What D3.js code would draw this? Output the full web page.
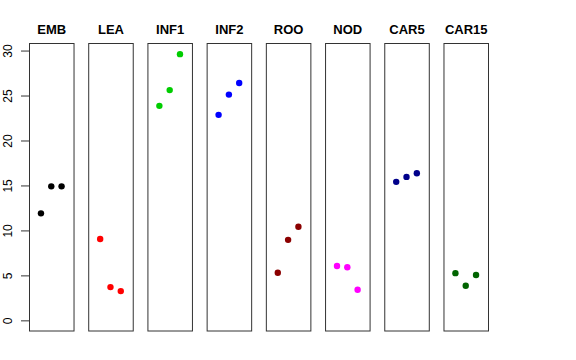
<!DOCTYPE html>
<html>
<head>
<meta charset="utf-8">
<script src="https://cdn.jsdelivr.net/npm/d3@7"></script>
<style>
html,body{margin:0;padding:0;background:#fff;}
svg{display:block;font-family:"Liberation Sans",Arial,Helvetica,sans-serif;}
</style>
</head>
<body>
<svg id="chart" width="576" height="360"></svg>
<script>
const categories = ["EMB","LEA","INF1","INF2","ROO","NOD","CAR5","CAR15"];
const colors = ["#000000","#FF0000","#00CD00","#0000FF","#8B0000","#FF00FF","#00008B","#006400"];
const replicates = [1,2,3];
const EMB   = [11.9, 14.9, 14.9];
const LEA   = [9.05, 3.7, 3.25];
const INF1  = [23.85, 25.6, 29.6];
const INF2  = [22.85, 25.1, 26.4];
const ROO   = [5.3, 8.95, 10.4];
const NOD   = [6.05, 5.9, 3.4];
const CAR5  = [15.4, 15.95, 16.35];
const CAR15 = [5.25, 3.85, 5.05];
const seriesValues = [EMB, LEA, INF1, INF2, ROO, NOD, CAR5, CAR15];
const yTicks = [0, 5, 10, 15, 20, 25, 30];

const svg = d3.select("#chart");
const plotTop = 43.5, plotBottom = 331;
const yMax = 29.6;
const y = d3.scaleLinear().domain([-0.04*yMax, yMax*1.04]).range([plotBottom, plotTop]);
const band = d3.scaleBand().domain(categories).range([29, 488]).paddingInner(0.248).paddingOuter(0);
const x = d3.scaleLinear().domain([-0.16, 4.16]).range([0, band.bandwidth()]);

// y axis
const axis = svg.append("g")
  .attr("transform", "translate(29,0)")
  .call(d3.axisLeft(y).tickValues(yTicks).tickSize(8).tickSizeOuter(0));
axis.select(".domain").remove();
axis.selectAll(".tick line").attr("stroke", "#333");
axis.selectAll(".tick text")
  .attr("transform", "rotate(-90)")
  .attr("x", 0).attr("y", -17).attr("dy", 0)
  .attr("text-anchor", "middle")
  .attr("font-size", 12)
  .attr("font-family", "Liberation Sans, Arial, sans-serif")
  .attr("fill", "#000");

categories.forEach((cat, i) => {
  const g = svg.append("g").attr("transform", `translate(${band(cat)},0)`);
  g.append("rect")
    .attr("x", 0.5).attr("y", plotTop)
    .attr("width", band.bandwidth()).attr("height", plotBottom - plotTop)
    .attr("fill", "none").attr("stroke", "#333").attr("stroke-width", 1);
  g.append("text")
    .attr("x", band.bandwidth()/2 + 0.5).attr("y", 34)
    .attr("text-anchor", "middle")
    .attr("font-weight", "bold").attr("font-size", 13)
    .text(cat);
  g.selectAll("circle").data(seriesValues[i]).enter().append("circle")
    .attr("cx", (d, j) => x(replicates[j]))
    .attr("cy", d => y(d))
    .attr("r", 3.2)
    .attr("fill", colors[i]);
});
</script>
</body>
</html>
